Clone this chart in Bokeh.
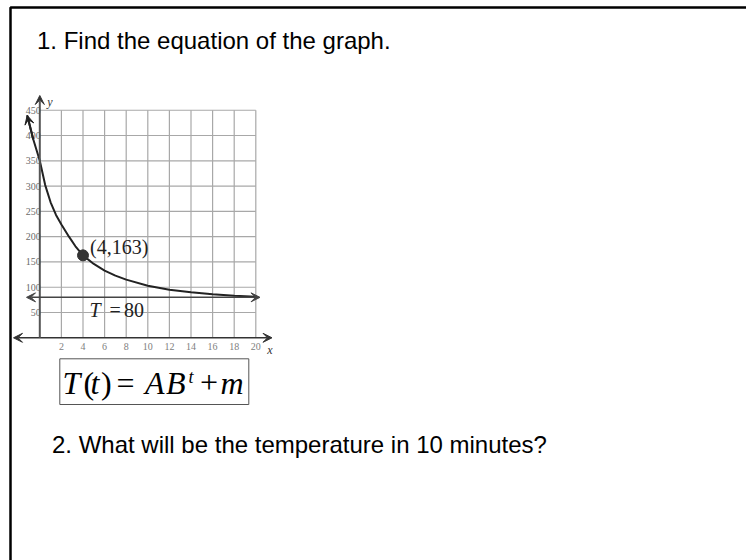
from bokeh.plotting import figure
from bokeh.models import Range1d, Arrow, VeeHead
from bokeh.core.properties import value
from bokeh.embed import file_html
from bokeh.resources import INLINE

# ---- graph data -------------------------------------------------------
X_TICKS = [2, 4, 6, 8, 10, 12, 14, 16, 18, 20]
X_TICK_LABELS = ["2", "4", "6", "8", "10", "12", "14", "16", "18", "20"]
Y_TICKS = [50, 100, 150, 200, 250, 300, 350, 400, 450]
Y_TICK_LABELS = ["50", "100", "150", "200", "250", "300", "350", "400", "450"]

# cooling curve (minutes, temperature)
CURVE_T = [-1.17, -0.6, 0.0, 0.5, 1.0, 1.5, 2.0, 2.7, 3.3, 4.0,
           5.0, 6.0, 7.0, 8.0, 10.0, 12.0, 14.0, 16.0, 18.0, 20.0]
CURVE_TEMP = [440, 392, 350, 302, 268, 243, 224, 200, 181, 163,
              146, 133, 123, 115, 103, 95, 90, 86, 83, 81]

POINT_T = [4]
POINT_TEMP = [163]
POINT_LABEL = "(4,163)"
ASYMPTOTE = 80
GRID_X_MAX = 20
GRID_Y_MAX = 450

# ---- page geometry (pixels) ------------------------------------------
W, H = 746, 560
ORIGIN_PX = (39.3, 337.3)   # where (0, 0) of the graph sits on the page
PX_PER_X = 10.8
PX_PER_Y = 0.5057
BASELINE_LIFT = 0.3         # em; raises the alphabetic baseline of page texts


def dx(px):
    return (px - ORIGIN_PX[0]) / PX_PER_X


def dy(py):
    return (ORIGIN_PX[1] - py) / PX_PER_Y


p = figure(width=W, height=H,
           x_range=Range1d(dx(0), dx(W)), y_range=Range1d(dy(H), dy(0)),
           output_backend="svg", toolbar_location=None,
           x_axis_location=None, y_axis_location=None,
           min_border=0, outline_line_color=None,
           background_fill_color="white", border_fill_color="white")
p.xgrid.visible = False
p.ygrid.visible = False

SERIF = "Liberation Serif"
SANS = "Liberation Sans"


def put_text(px, py, txt, font, size, style="normal", color="black",
             align="left", baseline="alphabetic"):
    if baseline == "alphabetic":
        py -= BASELINE_LIFT * size
    p.text(x=[dx(px)], y=[dy(py)], text=[txt], text_font=value(font),
           text_font_size=f"{size}px", text_font_style=style, text_color=color,
           text_align=align, text_baseline=baseline)


# page frame (top and left rules)
p.line([dx(10), dx(10), dx(W)], [dy(H), dy(7), dy(7)],
       line_color="black", line_width=2.5)

# question texts
put_text(36.5, 46.7, "1. Find the equation of the graph.", SANS, 24)
put_text(51.5, 450.7, "2. What will be the temperature in 10 minutes?", SANS, 24)

# ---- graph -------------------------------------------------------------
GRID_COLOR = "#a8a8a8"
p.segment(x0=X_TICKS, y0=[0] * len(X_TICKS), x1=X_TICKS,
          y1=[GRID_Y_MAX] * len(X_TICKS), line_color=GRID_COLOR, line_width=1.2)
p.segment(x0=[0] * len(Y_TICKS), y0=Y_TICKS, x1=[GRID_X_MAX] * len(Y_TICKS),
          y1=Y_TICKS, line_color=GRID_COLOR, line_width=1.2)

# tick labels
p.text(x=X_TICKS, y=[dy(346)] * len(X_TICKS), text=X_TICK_LABELS,
       text_font=value(SERIF), text_font_size="10px", text_color="#808080",
       text_align="center", text_baseline="middle")
p.text(x=[0] * len(Y_TICKS), y=Y_TICKS, text=Y_TICK_LABELS,
       text_font=value(SERIF), text_font_size="10px", text_color="#6a6a6a",
       text_align="right", text_baseline="middle", x_offset=1)

AXIS_COLOR = "#333333"
# x axis with arrows at both ends
p.add_layout(Arrow(x_start=dx(13), y_start=0, x_end=dx(271.5), y_end=0,
                   line_color=AXIS_COLOR, line_width=1.5,
                   start=VeeHead(size=9, fill_color=AXIS_COLOR, line_color=AXIS_COLOR),
                   end=VeeHead(size=9, fill_color=AXIS_COLOR, line_color=AXIS_COLOR)))
# y axis
p.add_layout(Arrow(x_start=0, y_start=0, x_end=0, y_end=dy(95),
                   line_color="#555555", line_width=2,
                   start=None,
                   end=VeeHead(size=9, fill_color=AXIS_COLOR, line_color=AXIS_COLOR)))

# asymptote T = 80
p.add_layout(Arrow(x_start=dx(26), y_start=ASYMPTOTE, x_end=dx(259.5), y_end=ASYMPTOTE,
                   line_color="#444444", line_width=1.5,
                   start=VeeHead(size=9, fill_color="#444444", line_color="#444444"),
                   end=VeeHead(size=9, fill_color="#444444", line_color="#444444")))

# cooling curve, with an arrow at its left end
p.line(CURVE_T, CURVE_TEMP, line_color="#222222", line_width=2)
p.add_layout(Arrow(x_start=CURVE_T[1], y_start=CURVE_TEMP[1],
                   x_end=CURVE_T[0], y_end=CURVE_TEMP[0],
                   line_color="#222222", line_width=2,
                   start=None,
                   end=VeeHead(size=9, fill_color="#222222", line_color="#222222")))

# marked point
p.scatter(POINT_T, POINT_TEMP, size=11, fill_color="#333333", line_color="#333333")
p.text(x=POINT_T, y=POINT_TEMP, text=[POINT_LABEL], text_font=value(SERIF),
       text_font_size="20px", text_color="#222222", text_align="left",
       text_baseline="alphabetic", x_offset=7, y_offset=-8)

# asymptote label "T = 80"
put_text(89, 315, "T", SERIF, 20, style="italic", color="#222222")
put_text(109, 315, "=", SERIF, 20, color="#222222")
put_text(123.5, 315, str(ASYMPTOTE), SERIF, 20, color="#222222")

# axis names
put_text(49.5, 101, "y", SERIF, 12, style="italic", color="#333333",
         align="center", baseline="middle")
put_text(269.5, 349.5, "x", SERIF, 12, style="italic", color="#333333",
         align="center", baseline="middle")

# ---- equation box T(t) = AB^t + m -------------------------------------
p.quad(left=[dx(59.3)], right=[dx(248.3)], top=[dy(358.3)], bottom=[dy(404)],
       fill_color=None, line_color="#555555", line_width=1)
EQ_BASE = 391.7
put_text(62, EQ_BASE, "T", SERIF, 32, style="italic")
put_text(83, EQ_BASE, "(", SERIF, 32)
put_text(90, EQ_BASE, "t", SERIF, 32, style="italic")
put_text(100.5, EQ_BASE, ")", SERIF, 32)
put_text(116, EQ_BASE, "=", SERIF, 32)
put_text(144.5, EQ_BASE, "A", SERIF, 32, style="italic")
put_text(165.5, EQ_BASE, "B", SERIF, 32, style="italic")
put_text(188, 382, "t", SERIF, 18, style="italic")
put_text(199.5, EQ_BASE, "+", SERIF, 32)
put_text(220, EQ_BASE, "m", SERIF, 32, style="italic")

open("out.html", "w").write(file_html(p, INLINE))
